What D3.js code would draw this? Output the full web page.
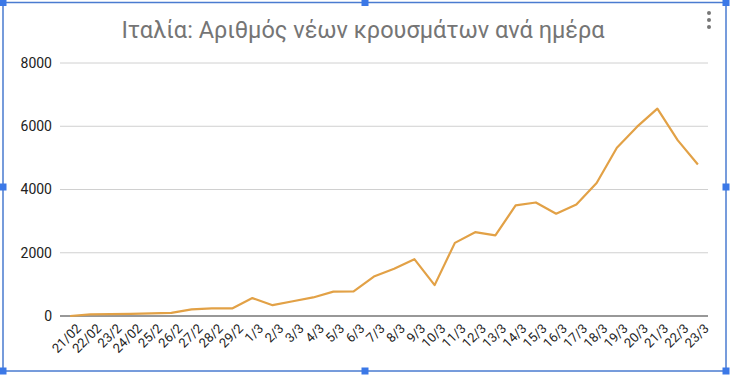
<!DOCTYPE html>
<html>
<head>
<meta charset="utf-8">
<script src="https://cdn.jsdelivr.net/npm/d3@7"></script>
<style>
  body { margin: 0; background: #fff; }
  svg { display: block; font-family: Roboto, Arial, sans-serif; }
</style>
</head>
<body>
<div id="chart"></div>
<script>
const dates = ["21/02","22/02","23/2","24/02","25/2","26/2","27/2","28/2","29/2",
  "1/3","2/3","3/3","4/3","5/3","6/3","7/3","8/3","9/3","10/3","11/3","12/3","13/3",
  "14/3","15/3","16/3","17/3","18/3","19/3","20/3","21/3","22/3","23/3"];
const newCases = [0, 50, 60, 70, 85, 100, 210, 238, 240,
  566, 342, 466, 587, 769, 778, 1247, 1492, 1797, 977, 2313, 2651, 2547,
  3497, 3590, 3233, 3526, 4207, 5322, 5986, 6557, 5560, 4789];
const yTicks = [0, 2000, 4000, 6000, 8000];
const title = "Ιταλία: Αριθμός νέων κρουσμάτων ανά ημέρα";

const W = 730, H = 376;
const margin = {top: 63, right: 22, bottom: 60, left: 60},
      width = W - margin.left - margin.right,
      height = 316 - margin.top;

const root = d3.select("#chart").append("svg")
  .attr("width", W).attr("height", H);

// selection frame (chart is selected in the sheet)
const blue = "#4a7bd0";
root.append("rect")
  .attr("x", 3).attr("y", 2.5).attr("width", 723).attr("height", 368.5)
  .attr("fill", "none").attr("stroke", blue).attr("stroke-width", 1.5);
[[3,2.5],[365,2.5],[726,2.5],[3,187],[726,187],[3,371],[365,371],[726,371]].forEach(p => {
  root.append("rect").attr("x", p[0]-3.5).attr("y", p[1]-3.5)
    .attr("width", 7).attr("height", 7).attr("fill", "#3b78e7");
});

// menu dots
[13, 20, 27].forEach(cy => root.append("circle")
  .attr("cx", 709).attr("cy", cy).attr("r", 2).attr("fill", "#777"));

root.append("text")
  .attr("x", 363).attr("y", 38)
  .attr("text-anchor", "middle")
  .attr("font-size", 23.5).attr("fill", "#757575")
  .text(title);

const svg = root.append("g")
  .attr("transform", `translate(${margin.left},${margin.top})`);

const x = d3.scalePoint().domain(dates).range([0, width]).padding(0.5);
const y = d3.scaleLinear().domain([0, 8000]).range([height, 0]);

// grid
svg.selectAll(".grid").data(yTicks.filter(d => d > 0)).enter()
  .append("line")
  .attr("x1", 0).attr("x2", width)
  .attr("y1", d => y(d)).attr("y2", d => y(d))
  .attr("stroke", "#d0d0d0").attr("stroke-width", 1);

// y axis labels
const yAxis = svg.append("g")
  .call(d3.axisLeft(y).tickValues(yTicks).tickSize(0).tickPadding(8).tickFormat(d3.format("d")));
yAxis.select(".domain").remove();
yAxis.selectAll("text").attr("font-size", 14).attr("fill", "#222")
  .attr("font-family", "Roboto, Arial, sans-serif");

// baseline
svg.append("line")
  .attr("x1", 0).attr("x2", width)
  .attr("y1", y(0)).attr("y2", y(0))
  .attr("stroke", "#333").attr("stroke-width", 1.2);

// x axis labels
const xAxis = svg.append("g")
  .attr("transform", `translate(0,${height})`)
  .call(d3.axisBottom(x).tickSize(0).tickPadding(0));
xAxis.select(".domain").remove();
xAxis.selectAll("text")
  .attr("font-size", 13).attr("fill", "#222")
  .attr("font-family", "Roboto, Arial, sans-serif")
  .attr("text-anchor", "end")
  .attr("dy", "0.35em")
  .attr("transform", "translate(8,10) rotate(-45)");

// line
const data = dates.map((d, i) => ({date: d, value: newCases[i]}));
svg.append("path")
  .datum(data)
  .attr("fill", "none")
  .attr("stroke", "#e2a146")
  .attr("stroke-width", 2.2)
  .attr("stroke-linejoin", "round")
  .attr("d", d3.line().x(d => x(d.date)).y(d => y(d.value)));
</script>
</body>
</html>
